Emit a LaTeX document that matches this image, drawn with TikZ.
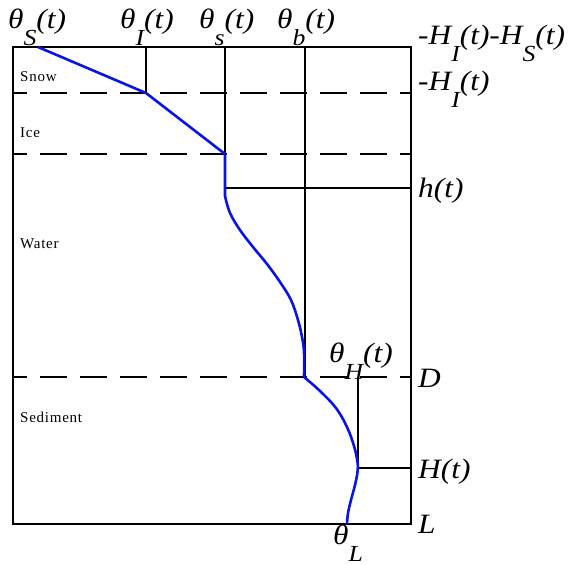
\documentclass[tikz,border=0pt]{standalone}
\usepackage{fontspec}
\setmainfont{Liberation Serif}
\newfontfamily\regionfont[LetterSpace=5]{Liberation Serif}
\usetikzlibrary{calc}
\newcommand{\sublab}[3]{\scalebox{1.12}[1]{\textit{#1\raisebox{-0.62em}{\fontsize{23}{23}\selectfont #2}#3}}}
\definecolor{profblue}{RGB}{10,20,225}
\tikzset{
  frame/.style={line width=2pt, black},
  sep/.style={line width=1.4pt, black, dash pattern=on 27pt off 13pt, dash phase=13pt},
  level/.style={line width=1.8pt, black},
  prof/.style={line width=2.6pt, profblue, line join=round},
  biglab/.style={inner sep=0pt, anchor=base west, font=\fontsize{28}{28}\selectfont},
  region/.style={inner sep=0pt, anchor=base west, font=\regionfont\fontsize{15}{15}\selectfont}
}
\begin{document}
\begin{tikzpicture}[x=1pt,y=-1pt]
\useasboundingbox (0,0) rectangle (574,565);
\fill[white] (0,0) rectangle (574,565);
% key coordinates
\coordinate (tl) at (13,47);
\coordinate (tr) at (411,47);
\coordinate (bl) at (13,524);
\coordinate (br) at (411,524);
% dashed separators
\draw[sep] (13,93) -- (411,93);
\draw[sep] (13,154) -- (411,154);
\draw[sep] (13,377) -- (411,377);
% level lines
\draw[level] (146,47) -- (146,93);
\draw[level] (225,47) -- (225,154);
\draw[level] (225,188) -- (411,188);
\draw[level] (305,47) -- (305,377);
\draw[level] (358,377) -- (358,468);
\draw[level] (358,468) -- (411,468);
% frame
\draw[frame] (tl) -- (tr) -- (br) -- (bl) -- cycle;
% temperature profile
\draw[prof] (38,47) -- (146,93) -- (225,154) -- (225,196)
  -- plot[smooth, tension=0.6] coordinates {(225,196) (230,213) (240,230) (253,247) (267,264) (280,282) (291,300) (298,320) (302,337) (304,352) (304,377)};
\draw[prof] plot[smooth, tension=0.6] coordinates {(304,377) (320,391) (336,408) (347,427) (354,446) (357.5,462) (357.5,472) (355,485) (351,500) (348,513) (347,524)};
% region labels
\node[region] (snow) at (20,81) {Snow};
\node[region] (ice) at (20,137) {Ice};
\node[region] (water) at (20,248) {Water};
\node[region] (sed) at (20,422) {Sediment};
% top labels
\node[biglab] (thS) at (8,28) {\sublab{θ}{S}{(t)}};
\node[biglab] (thI) at (120,28) {\sublab{θ}{I}{(t)}};
\node[biglab] (ths) at (199,28) {\sublab{θ}{s}{(t)}};
\node[biglab] (thb) at (277,28) {\sublab{θ}{b}{(t)}};
\node[biglab] (thH) at (329,362) {\sublab{θ}{H}{(t)}};
\node[biglab] (thL) at (333,544) {\sublab{θ}{L}{}};
% right labels
\node[biglab] (hihs) at (418,44) {\scalebox{1.12}[1]{\textit{-H\raisebox{-0.62em}{\fontsize{23}{23}\selectfont I}(t)-H\raisebox{-0.62em}{\fontsize{23}{23}\selectfont S}(t)}}};
\node[biglab] (hi) at (418,90) {\sublab{-H}{I}{(t)}};
\node[biglab] (ht) at (418,197) {\scalebox{1.12}[1]{\textit{h(t)}}};
\node[biglab] (dd) at (418,387) {\scalebox{1.12}[1]{\textit{D}}};
\node[biglab] (Ht) at (418,478) {\scalebox{1.12}[1]{\textit{H(t)}}};
\node[biglab] (ll) at (418,533) {\scalebox{1.12}[1]{\textit{L}}};
\end{tikzpicture}
\end{document}
